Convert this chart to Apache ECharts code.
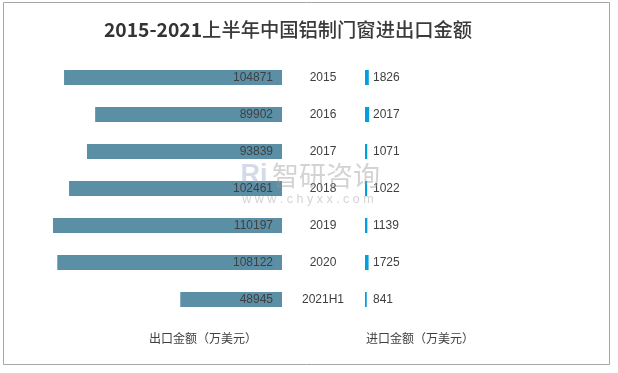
<!DOCTYPE html>
<html><head><meta charset="utf-8">
<script src="https://cdn.jsdelivr.net/npm/echarts@6/dist/echarts.min.js"></script>
<style>html,body{margin:0;padding:0;background:#fff}#c{width:618px;height:373px}</style>
</head><body><div id="c"></div>
<script>
const years = ['2015','2016','2017','2018','2019','2020','2021H1'];
const exportVals = [104871, 89902, 93839, 102461, 110197, 108122, 48945];
const importVals = [1826, 2017, 1071, 1022, 1139, 1725, 841];
const titleNum = '2015-2021';
const titleCn = '上半年中国铝制门窗进出口金额';
const exportName = '出口金额（万美元）';
const importName = '进口金额（万美元）';

const FONT = '"Liberation Sans","Noto Sans CJK SC",sans-serif';
const CJK = '"Noto Sans CJK SC",sans-serif';
const TXT = '#404040';
const chart = echarts.init(document.getElementById('c'), null, {renderer:'canvas'});
chart.setOption({
  animation:false,
  backgroundColor:'#fff',
  textStyle:{fontFamily:FONT},
  graphic:[
    {type:'rect', shape:{x:3.5,y:2.5,width:606,height:362}, style:{fill:'none',stroke:'#a6a6a6',lineWidth:1}, z:0},
    {type:'text', x:288, y:30, style:{text:'{a|'+titleNum+'}{b|'+titleCn+'}', textAlign:'center', textVerticalAlign:'middle',
      rich:{a:{fontSize:19.3, fontWeight:'bold', fill:'#333', color:'#333', fontFamily:CJK},
            b:{fontSize:19.3, fontWeight:500, fill:'#3a3a3a', color:'#3a3a3a', fontFamily:CJK}}}},
    {type:'text', x:203, y:338, style:{text:exportName, fontSize:12, fill:TXT, textAlign:'center', textVerticalAlign:'middle', fontFamily:CJK}},
    {type:'text', x:420, y:338, style:{text:importName, fontSize:12, fill:TXT, textAlign:'center', textVerticalAlign:'middle', fontFamily:CJK}},
    {type:'text', x:326, y:176, z:100, style:{text:'智研咨询', fontSize:27, fill:'rgba(150,150,150,0.42)', textAlign:'center', textVerticalAlign:'middle', fontFamily:CJK}},
    {type:'text', x:254, y:176, z:100, style:{text:'Ri', fontSize:27, fontWeight:'bold', fill:'rgba(140,160,200,0.38)', textAlign:'center', textVerticalAlign:'middle', fontFamily:FONT}},
    {type:'text', x:308, y:200, z:100, style:{text:'w w w . c h y x x . c o m', fontSize:12.5, fill:'rgba(150,150,150,0.42)', textAlign:'center', textVerticalAlign:'middle', fontFamily:FONT}}
  ],
  grid:[
    {left:32.6, width:249.4, top:59, height:259},
    {left:365, width:124.7, top:59, height:259}
  ],
  xAxis:[
    {gridIndex:0, type:'value', min:0, max:120000, inverse:true, show:false},
    {gridIndex:1, type:'value', min:0, max:60000, show:false}
  ],
  yAxis:[
    {gridIndex:0, type:'category', data:years, inverse:true, position:'right',
     axisLine:{show:false}, axisTick:{show:false}, splitLine:{show:false},
     axisLabel:{align:'center', margin:41, color:TXT, fontSize:12, fontFamily:FONT}},
    {gridIndex:1, type:'category', data:years, inverse:true, show:false}
  ],
  series:[
    {type:'bar', xAxisIndex:0, yAxisIndex:0, data:exportVals, barWidth:15,
     itemStyle:{color:'#5B8FA6'},
     label:{show:true, position:'insideRight', distance:9, color:TXT, fontSize:12, fontFamily:FONT}},
    {type:'bar', xAxisIndex:1, yAxisIndex:1, data:importVals, barWidth:15,
     itemStyle:{color:'#00A0DA'},
     label:{show:true, position:'insideLeft', distance:8, color:TXT, fontSize:12, fontFamily:FONT}}
  ]
});
</script></body></html>
